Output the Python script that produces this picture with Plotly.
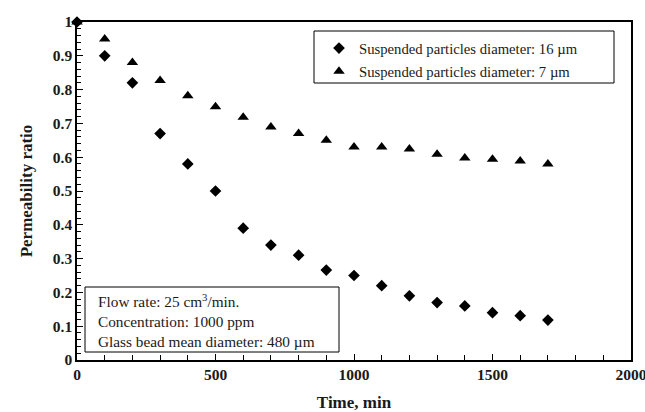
import plotly.graph_objects as go

# time in minutes
time_min = [0, 100, 200, 300, 400, 500, 600, 700, 800, 900,
            1000, 1100, 1200, 1300, 1400, 1500, 1600, 1700]

# permeability ratio, 16 um particles (diamonds)
ratio_16um = [1.0, 0.90, 0.82, 0.67, 0.58, 0.50, 0.39, 0.34, 0.31, 0.266,
              0.25, 0.22, 0.19, 0.17, 0.16, 0.14, 0.131, 0.118]

# permeability ratio, 7 um particles (triangles)
ratio_7um = [1.0, 0.95, 0.88, 0.827, 0.782, 0.749, 0.718, 0.689, 0.67, 0.65,
             0.63, 0.63, 0.624, 0.609, 0.598, 0.594, 0.589, 0.58]

# tick labels
x_ticks = [0, 500, 1000, 1500, 2000]
y_ticks = [0, 0.1, 0.2, 0.3, 0.4, 0.5, 0.6, 0.7, 0.8, 0.9, 1]
y_tick_labels = ["0", "0.1", "0.2", "0.3", "0.4", "0.5", "0.6", "0.7", "0.8", "0.9", "1"]

label_16 = "Suspended particles diameter: 16 \u00b5m"
label_7 = "Suspended particles diameter: 7 \u00b5m"

serif = "Liberation Serif, Times New Roman, serif"

fig = go.Figure()
fig.add_trace(go.Scatter(
    x=time_min, y=ratio_16um, mode="markers", name=label_16,
    legendgroup="a", cliponaxis=False,
    marker=dict(symbol="diamond", size=9, color="black"),
))
fig.add_trace(go.Scatter(
    x=time_min, y=ratio_7um, mode="markers", name=label_7,
    legendgroup="b", cliponaxis=False,
    marker=dict(symbol="triangle-up", size=10, color="black"),
))

axis_common = dict(
    showline=True, linecolor="black", linewidth=1.5, mirror=True,
    ticks="inside", ticklen=6, tickcolor="black", tickwidth=1,
    showgrid=False, zeroline=False, automargin=False,
    ticklabeloverflow="allow",
    tickfont=dict(family=serif, size=15.5, color="#1a1a1a"),
)

fig.update_xaxes(
    range=[0, 2000], tickvals=x_ticks,
    ticktext=["<b>%d</b>" % v for v in x_ticks],
    minor=dict(dtick=100, ticks="inside", ticklen=5, tickcolor="black"),
    title=dict(text="<b>Time, min</b>", font=dict(family=serif, size=17, color="#1a1a1a"),
               standoff=20),
    **axis_common,
)
fig.update_yaxes(
    range=[0, 1], tickvals=y_ticks,
    ticktext=["<b>%s</b>" % t for t in y_tick_labels],
    minor=dict(dtick=0.02, ticks="inside", ticklen=4, tickcolor="black"),
    title=dict(text="<b>Permeability ratio</b>", font=dict(family=serif, size=17, color="#1a1a1a"),
               standoff=16),
    **axis_common,
)

# legend box
fig.add_shape(type="rect", xref="paper", yref="paper",
              x0=(314 - 77) / 554, x1=(614 - 77) / 554,
              y0=(360 - 83) / 338, y1=(360 - 31) / 338,
              line=dict(color="black", width=1), fillcolor="rgba(0,0,0,0)")

# conditions box
fig.add_shape(type="rect", xref="paper", yref="paper",
              x0=(85 - 77) / 554, x1=(339 - 77) / 554,
              y0=(360 - 352) / 338, y1=(360 - 287) / 338,
              line=dict(color="black", width=1), fillcolor="white", layer="below")
fig.add_annotation(
    xref="paper", yref="paper", x=(96 - 77) / 554, y=(360 - 320) / 338,
    xanchor="left", yanchor="middle", align="left", showarrow=False,
    text="Flow rate: 25 cm<sup>3</sup>/min.<br>Concentration: 1000 ppm<br>"
         "Glass bead mean diameter: 480 \u00b5m",
    font=dict(family=serif, size=15.3, color="#1a1a1a"),
)

fig.update_layout(
    width=645, height=412,
    margin=dict(l=77, r=14, t=22, b=52),
    plot_bgcolor="white", paper_bgcolor="white",
    showlegend=True,
    legend=dict(
        x=(319 - 77) / 554, y=(360 - 32) / 338, xanchor="left", yanchor="top",
        bgcolor="rgba(0,0,0,0)", borderwidth=0,
        font=dict(family=serif, size=14.7, color="#1a1a1a"),
        tracegroupgap=1, traceorder="grouped",
    ),
)

# drop the default 8px body margin so the figure fills the window exactly
fig.write_html("out.html",
               config={"displayModeBar": False},
               post_script="document.body.style.margin='0';"
                           "document.body.style.overflow='hidden';")
